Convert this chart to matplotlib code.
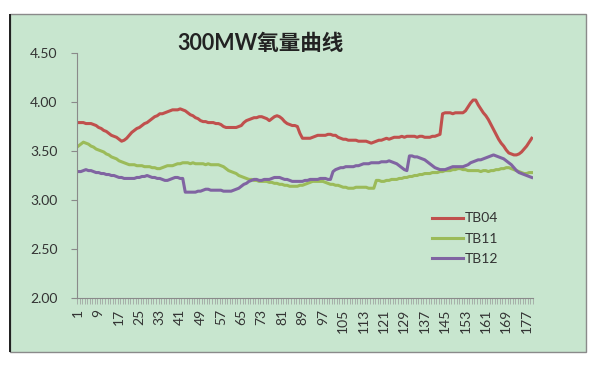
import matplotlib
matplotlib.use("Agg")
import matplotlib.pyplot as plt
import numpy as np
from matplotlib.patches import Rectangle

plt.rcParams['font.family'] = ['Lato', 'Noto Sans CJK SC', 'DejaVu Sans']

# 数据 (1..179)
tb04 = [3.79, 3.79, 3.79, 3.78, 3.78, 3.78, 3.77, 3.76, 3.74, 3.73,
        3.71, 3.70, 3.68, 3.66, 3.65, 3.64, 3.62, 3.60, 3.61, 3.63,
        3.66, 3.69, 3.71, 3.73, 3.74, 3.76, 3.78, 3.79, 3.81, 3.83,
        3.85, 3.86, 3.88, 3.88, 3.89, 3.90, 3.91, 3.92, 3.92, 3.92,
        3.93, 3.92, 3.91, 3.89, 3.87, 3.86, 3.84, 3.83, 3.81, 3.80,
        3.80, 3.79, 3.79, 3.79, 3.78, 3.78, 3.77, 3.75, 3.74, 3.74,
        3.74, 3.74, 3.74, 3.75, 3.76, 3.79, 3.81, 3.82, 3.83, 3.84,
        3.84, 3.85, 3.85, 3.84, 3.83, 3.81, 3.83, 3.85, 3.86, 3.85,
        3.83, 3.80, 3.78, 3.77, 3.76, 3.76, 3.75, 3.68, 3.63, 3.63,
        3.63, 3.63, 3.64, 3.65, 3.66, 3.66, 3.66, 3.66, 3.67, 3.67,
        3.66, 3.66, 3.64, 3.63, 3.62, 3.62, 3.61, 3.61, 3.61, 3.61,
        3.60, 3.60, 3.60, 3.60, 3.59, 3.58, 3.59, 3.60, 3.61, 3.61,
        3.62, 3.63, 3.62, 3.63, 3.64, 3.64, 3.64, 3.65, 3.64, 3.65,
        3.65, 3.65, 3.65, 3.64, 3.65, 3.65, 3.64, 3.64, 3.64, 3.65,
        3.65, 3.66, 3.67, 3.88, 3.89, 3.89, 3.89, 3.88, 3.89, 3.89,
        3.89, 3.89, 3.91, 3.95, 3.99, 4.02, 4.02, 3.97, 3.93, 3.89,
        3.86, 3.82, 3.77, 3.72, 3.67, 3.62, 3.58, 3.55, 3.51, 3.48,
        3.47, 3.46, 3.46, 3.47, 3.49, 3.52, 3.55, 3.59, 3.63]

tb11 = [3.55, 3.57, 3.59, 3.58, 3.57, 3.55, 3.54, 3.52, 3.51, 3.50,
        3.49, 3.47, 3.46, 3.44, 3.43, 3.42, 3.40, 3.39, 3.38, 3.37,
        3.36, 3.36, 3.36, 3.35, 3.35, 3.35, 3.34, 3.34, 3.34, 3.33,
        3.33, 3.32, 3.32, 3.33, 3.34, 3.35, 3.35, 3.35, 3.36, 3.37,
        3.37, 3.38, 3.38, 3.38, 3.37, 3.38, 3.37, 3.37, 3.37, 3.37,
        3.36, 3.37, 3.36, 3.36, 3.36, 3.36, 3.35, 3.34, 3.32, 3.30,
        3.29, 3.28, 3.27, 3.25, 3.24, 3.23, 3.22, 3.21, 3.21, 3.20,
        3.20, 3.19, 3.19, 3.19, 3.19, 3.18, 3.18, 3.17, 3.17, 3.16,
        3.16, 3.15, 3.15, 3.14, 3.14, 3.14, 3.14, 3.15, 3.15, 3.16,
        3.17, 3.18, 3.19, 3.19, 3.19, 3.19, 3.19, 3.18, 3.17, 3.16,
        3.16, 3.15, 3.15, 3.14, 3.13, 3.13, 3.12, 3.12, 3.12, 3.13,
        3.13, 3.13, 3.13, 3.13, 3.12, 3.12, 3.12, 3.20, 3.20, 3.19,
        3.19, 3.20, 3.20, 3.21, 3.21, 3.21, 3.22, 3.22, 3.23, 3.23,
        3.24, 3.24, 3.25, 3.25, 3.26, 3.26, 3.27, 3.27, 3.27, 3.28,
        3.28, 3.28, 3.29, 3.29, 3.30, 3.30, 3.30, 3.31, 3.31, 3.32,
        3.32, 3.31, 3.31, 3.30, 3.30, 3.30, 3.30, 3.30, 3.29, 3.30,
        3.30, 3.29, 3.30, 3.30, 3.31, 3.31, 3.32, 3.32, 3.33, 3.33,
        3.32, 3.31, 3.30, 3.29, 3.28, 3.27, 3.27, 3.28, 3.28]

tb12 = [3.29, 3.29, 3.30, 3.31, 3.30, 3.30, 3.29, 3.28, 3.28, 3.27,
        3.27, 3.26, 3.26, 3.25, 3.25, 3.24, 3.23, 3.23, 3.22, 3.22,
        3.22, 3.22, 3.22, 3.23, 3.23, 3.24, 3.24, 3.25, 3.24, 3.23,
        3.23, 3.22, 3.22, 3.21, 3.20, 3.20, 3.21, 3.22, 3.23, 3.23,
        3.22, 3.22, 3.08, 3.08, 3.08, 3.08, 3.08, 3.09, 3.09, 3.10,
        3.11, 3.11, 3.10, 3.10, 3.10, 3.10, 3.10, 3.09, 3.09, 3.09,
        3.09, 3.10, 3.11, 3.12, 3.14, 3.16, 3.17, 3.19, 3.20, 3.21,
        3.21, 3.20, 3.20, 3.21, 3.21, 3.21, 3.22, 3.23, 3.23, 3.23,
        3.22, 3.21, 3.21, 3.20, 3.19, 3.19, 3.19, 3.19, 3.19, 3.20,
        3.20, 3.21, 3.21, 3.21, 3.21, 3.22, 3.22, 3.22, 3.21, 3.21,
        3.29, 3.31, 3.32, 3.33, 3.33, 3.34, 3.34, 3.34, 3.34, 3.35,
        3.35, 3.36, 3.37, 3.37, 3.37, 3.38, 3.38, 3.38, 3.38, 3.39,
        3.39, 3.39, 3.40, 3.39, 3.38, 3.37, 3.35, 3.33, 3.31, 3.30,
        3.45, 3.45, 3.44, 3.44, 3.43, 3.42, 3.41, 3.39, 3.37, 3.35,
        3.33, 3.32, 3.31, 3.31, 3.31, 3.32, 3.33, 3.34, 3.34, 3.34,
        3.34, 3.34, 3.35, 3.36, 3.38, 3.39, 3.40, 3.41, 3.41, 3.42,
        3.43, 3.44, 3.45, 3.46, 3.45, 3.44, 3.43, 3.42, 3.40, 3.38,
        3.36, 3.33, 3.30, 3.28, 3.27, 3.26, 3.25, 3.24, 3.23]

series_names = ['TB04', 'TB11', 'TB12']
yticks = [2.00, 2.50, 3.00, 3.50, 4.00, 4.50]

x = np.arange(1, len(tb04) + 1)

fig = plt.figure(figsize=(6, 3.67), dpi=100)
fig.patch.set_facecolor('white')

# 图表区背景
bg = '#C8E6CF'
fig.patches.append(Rectangle((10/600, 1 - 352/367), 576/600, 338/367,
                             transform=fig.transFigure, facecolor=bg,
                             edgecolor='#8a8a8a', linewidth=1, zorder=-10))
fig.patches.append(Rectangle((9/600, 1 - 352/367), 2/600, 338/367,
                             transform=fig.transFigure, facecolor='#222222',
                             edgecolor='none', zorder=-9))

ax = fig.add_axes([77/600, 1 - 298/367, 456/600, 245/367])
ax.set_zorder(5)
ax.patch.set_alpha(0)

colors = ['#C0504D', '#9BBB59', '#8064A2']
for vals, name, c in zip([tb04, tb11, tb12], series_names, colors):
    ax.plot(x, vals, color=c, linewidth=2.2, label=name)

ax.set_xlim(0.5, len(tb04) + 0.5)
ax.set_ylim(2.0, 4.5)
ax.set_yticks(yticks)
ax.set_yticklabels(['%.2f' % v for v in yticks])

ax.set_xticks(x[::8])
ax.set_xticklabels([str(v) for v in x[::8]], rotation=90)
ax.set_xticks(np.arange(0.5, len(tb04) + 1, 1), minor=True)

for s in ['top', 'right']:
    ax.spines[s].set_visible(False)
for s in ['left', 'bottom']:
    ax.spines[s].set_color('#8a8a8a')
    ax.spines[s].set_linewidth(0.8)

ax.tick_params(axis='y', length=4, pad=10, color='#8a8a8a',
               labelsize=10, labelcolor='#333333')
ax.tick_params(axis='x', which='major', length=0, pad=8,
               labelsize=10, labelcolor='#333333')
ax.tick_params(axis='x', which='minor', length=4, color='#9a9a9a', width=0.5)

leg = ax.legend(loc='upper left', bbox_to_anchor=(0.75, 0.4), frameon=False,
                fontsize=10, handlelength=2.3, handletextpad=0.1,
                labelspacing=0.6, labelcolor='#333333')

fig.text(260/600, 1 - 44/367, '300MW氧量曲线', ha='center', va='center',
         fontsize=15.5, fontweight='bold', color='#222222',
         family=['Lato', 'Noto Sans CJK SC'])

fig.savefig('out.png', dpi=100)
